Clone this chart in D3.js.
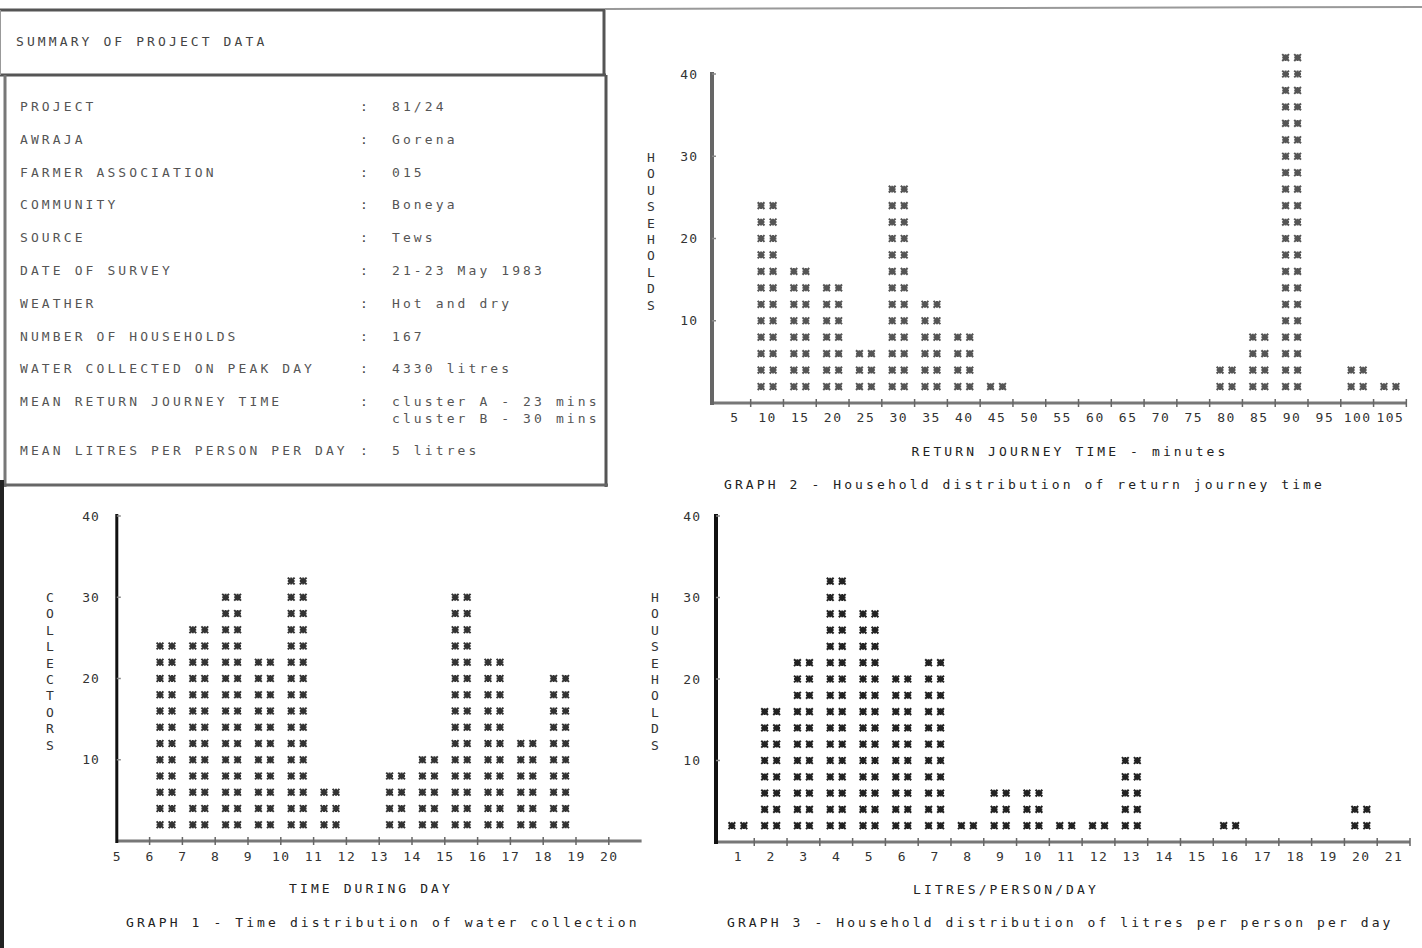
<!DOCTYPE html>
<html lang="en">
<head>
<meta charset="UTF-8">
<title>Summary of project data</title>
<script src="https://d3js.org/d3.v7.min.js"></script>
<style>
  body { margin: 0; background: #fff; }
  svg text { font-family: "DejaVu Sans Mono", "Liberation Mono", monospace; font-size: 13px; }
</style>
</head>
<body>
<script>
// ---- data ----
var summaryLabels = ["PROJECT", "AWRAJA", "FARMER ASSOCIATION", "COMMUNITY", "SOURCE",
  "DATE OF SURVEY", "WEATHER", "NUMBER OF HOUSEHOLDS", "WATER COLLECTED ON PEAK DAY",
  "MEAN RETURN JOURNEY TIME", "MEAN LITRES PER PERSON PER DAY"];
var summaryValues = ["81/24", "Gorena", "015", "Boneya", "Tews", "21-23 May 1983",
  "Hot and dry", "167", "4330 litres", "cluster A - 23 mins|cluster B - 30 mins", "5 litres"];

// graph 1: collectors per hour of the day (bin starts at the hour)
var timeLabels = [5, 6, 7, 8, 9, 10, 11, 12, 13, 14, 15, 16, 17, 18, 19, 20];
var timeBins = [6, 7, 8, 9, 10, 11, 12, 13, 14, 15, 16, 17, 18, 19];
var collectors = [24, 26, 30, 22, 32, 6, 0, 8, 10, 30, 22, 12, 20, 0];

// graph 2: households by return journey time (minutes)
var journeyTimes = [5, 10, 15, 20, 25, 30, 35, 40, 45, 50, 55, 60, 65, 70, 75, 80, 85, 90, 95, 100, 105];
var journeyHouseholds = [0, 24, 16, 14, 6, 26, 12, 8, 2, 0, 0, 0, 0, 0, 0, 4, 8, 42, 0, 4, 2];

// graph 3: households by litres per person per day
var litres = [1, 2, 3, 4, 5, 6, 7, 8, 9, 10, 11, 12, 13, 14, 15, 16, 17, 18, 19, 20, 21];
var litresHouseholds = [2, 16, 22, 32, 28, 20, 22, 2, 6, 6, 2, 2, 10, 0, 0, 2, 0, 0, 0, 4, 0];

var yTicks = [10, 20, 30, 40];

var svg = d3.select("body").append("svg")
    .attr("width", 1422)
    .attr("height", 948);

// printed star, like the dot matrix "*"
var star = {
  draw: function(context, size) {
    var r = Math.sqrt(size) / 2;
    context.moveTo(-r, -r); context.lineTo(r, r);
    context.moveTo(r, -r); context.lineTo(-r, r);
    context.moveTo(0, -r); context.lineTo(0, r);
    context.moveTo(-r, 0); context.lineTo(r, 0);
  }
};

function line(x1, y1, x2, y2, color, w) {
  svg.append("line")
      .attr("x1", x1).attr("y1", y1).attr("x2", x2).attr("y2", y2)
      .attr("stroke", color).attr("stroke-width", w);
}

function text(x, y, s, opts) {
  opts = opts || {};
  return svg.append("text")
      .attr("x", x).attr("y", y)
      .attr("text-anchor", opts.anchor || "start")
      .attr("fill", opts.fill || "#333")
      .style("letter-spacing", (opts.spacing == null ? 3.1 : opts.spacing) + "px")
      .text(s);
}

// ---- summary box ----
line(0, 10, 605, 10, "#555", 3);
line(605, 9, 1422, 7, "#999", 2);
line(604, 10, 604, 75, "#555", 3);
line(0, 75, 606, 75, "#555", 3);
line(5, 75, 5, 487, "#777", 3);
line(606, 75, 606, 487, "#555", 3);
line(0, 485, 608, 485, "#666", 3);
line(2, 480, 2, 948, "#222", 4);
line(0, 10, 0, 75, "#999", 2);

text(16, 46, "SUMMARY OF PROJECT DATA", { fill: "#444" });

var rowY = [106, 139, 172, 204, 237, 270, 303, 336, 368, 401, 450];
summaryLabels.forEach(function(lab, i) {
  text(20, rowY[i] + 5, lab, { fill: "#555" });
  text(360, rowY[i] + 5, ":", { fill: "#444" });
  summaryValues[i].split("|").forEach(function(v, j) {
    text(392, rowY[i] + 5 + j * 17, v, { fill: "#555" });
  });
});

// ---- one histogram of stars ----
function drawGraph(cfg) {
  var x = cfg.x, y = cfg.y;
  var x0 = x.range()[0], x1 = x.range()[1], y0 = y(0);

  // stars: two per printed row, each row worth 2
  var marks = [];
  cfg.cats.forEach(function(c, i) {
    d3.range(1, cfg.counts[i] / 2 + 1).forEach(function(k) {
      marks.push({ x: x(cfg.pos(c)), v: 2 * k });
    });
  });
  var sym = d3.symbol().type(star).size(46);
  [-6, 6].forEach(function(dx) {
    svg.append("g").selectAll("path")
      .data(marks)
      .join("path")
        .attr("d", sym)
        .attr("transform", function(d) { return "translate(" + (d.x + dx) + "," + y(d.v) + ")"; })
        .attr("fill", "none")
        .attr("stroke", cfg.starColor)
        .attr("stroke-width", 2);
  });

  // x axis line with crossing ticks
  line(x0, y0, x1, y0, "#777", 3);
  svg.append("g").selectAll("line")
    .data(cfg.tickValues)
    .join("line")
      .attr("x1", function(d) { return x(d); })
      .attr("x2", function(d) { return x(d); })
      .attr("y1", y0 - 4).attr("y2", y0 + 4)
      .attr("stroke", "#666").attr("stroke-width", 1.5);

  // x tick labels
  var xl = svg.append("g")
      .attr("transform", "translate(0," + (cfg.labelY - 5) + ")")
      .call(d3.axisBottom(x).tickValues(cfg.labels).tickSize(0).tickPadding(0).tickFormat(d3.format("d")));
  xl.select(".domain").remove();
  xl.selectAll("text")
      .attr("fill", "#333")
      .style("font-family", "'DejaVu Sans Mono', monospace")
      .style("font-size", "13px")
      .style("letter-spacing", "1.5px");

  // y axis
  line(x0, y(40) - 2, x0, y0 + 2, cfg.yColor, cfg.yWidth);
  var yl = svg.append("g")
      .attr("transform", "translate(" + (x0 - cfg.yPad) + ",0)")
      .call(d3.axisLeft(y).tickValues(yTicks).tickSize(0).tickPadding(0));
  yl.select(".domain").remove();
  yl.selectAll("text")
      .attr("fill", "#333")
      .style("font-family", "'DejaVu Sans Mono', monospace")
      .style("font-size", "13px")
      .style("letter-spacing", "1px");
  svg.append("g").selectAll("line")
    .data(yTicks)
    .join("line")
      .attr("x1", x0).attr("x2", x0 + 4)
      .attr("y1", function(d) { return y(d); })
      .attr("y2", function(d) { return y(d); })
      .attr("stroke", "#888").attr("stroke-width", 1.5);

  // vertical axis title, one letter under the other
  cfg.yTitle.split("").forEach(function(ch, i) {
    text(cfg.yTitleX, cfg.yTitleY + i * 16.4 + 5, ch, { anchor: "middle", spacing: 0, fill: "#333" });
  });

  text(cfg.titleX, cfg.titleY + 5, cfg.title, { anchor: "middle", fill: "#222" });
  text(cfg.captionX, cfg.captionY + 5, cfg.caption, { fill: "#222" });
}

// graph 2 - return journey time
drawGraph({
  x: d3.scaleLinear().domain([1.6, 107.6]).range([712, 1407]),
  y: d3.scaleLinear().domain([0, 40]).range([403, 74]),
  cats: journeyTimes, counts: journeyHouseholds,
  pos: function(d) { return d; },
  tickValues: journeyTimes.map(function(d) { return d + 2.5; }),
  labels: journeyTimes, labelY: 418,
  starColor: "#555", yColor: "#666", yWidth: 4, yPad: 14,
  yTitle: "HOUSEHOLDS", yTitleX: 651, yTitleY: 157,
  title: "RETURN JOURNEY TIME - minutes", titleX: 1070, titleY: 451,
  caption: "GRAPH 2 - Household distribution of return journey time", captionX: 724, captionY: 484
});

// graph 1 - time during day
drawGraph({
  x: d3.scaleLinear().domain([5, 21]).range([116.8, 641.6]),
  y: d3.scaleLinear().domain([0, 40]).range([841, 516]),
  cats: timeBins, counts: collectors,
  pos: function(d) { return d + 0.5; },
  tickValues: timeLabels.slice(1),
  labels: timeLabels, labelY: 857,
  starColor: "#333", yColor: "#111", yWidth: 3, yPad: 17,
  yTitle: "COLLECTORS", yTitleX: 50, yTitleY: 597,
  title: "TIME DURING DAY", titleX: 371, titleY: 888,
  caption: "GRAPH 1 - Time distribution of water collection", captionX: 126, captionY: 922
});

// graph 3 - litres per person per day
drawGraph({
  x: d3.scaleLinear().domain([1 / 3, 21.5]).range([716, 1410]),
  y: d3.scaleLinear().domain([0, 40]).range([842, 516]),
  cats: litres, counts: litresHouseholds,
  pos: function(d) { return d; },
  tickValues: litres.map(function(d) { return d + 0.5; }),
  labels: litres, labelY: 857,
  starColor: "#222", yColor: "#111", yWidth: 4, yPad: 15,
  yTitle: "HOUSEHOLDS", yTitleX: 655, yTitleY: 597,
  title: "LITRES/PERSON/DAY", titleX: 1006, titleY: 889,
  caption: "GRAPH 3 - Household distribution of litres per person per day", captionX: 727, captionY: 922
});
</script>
</body>
</html>
